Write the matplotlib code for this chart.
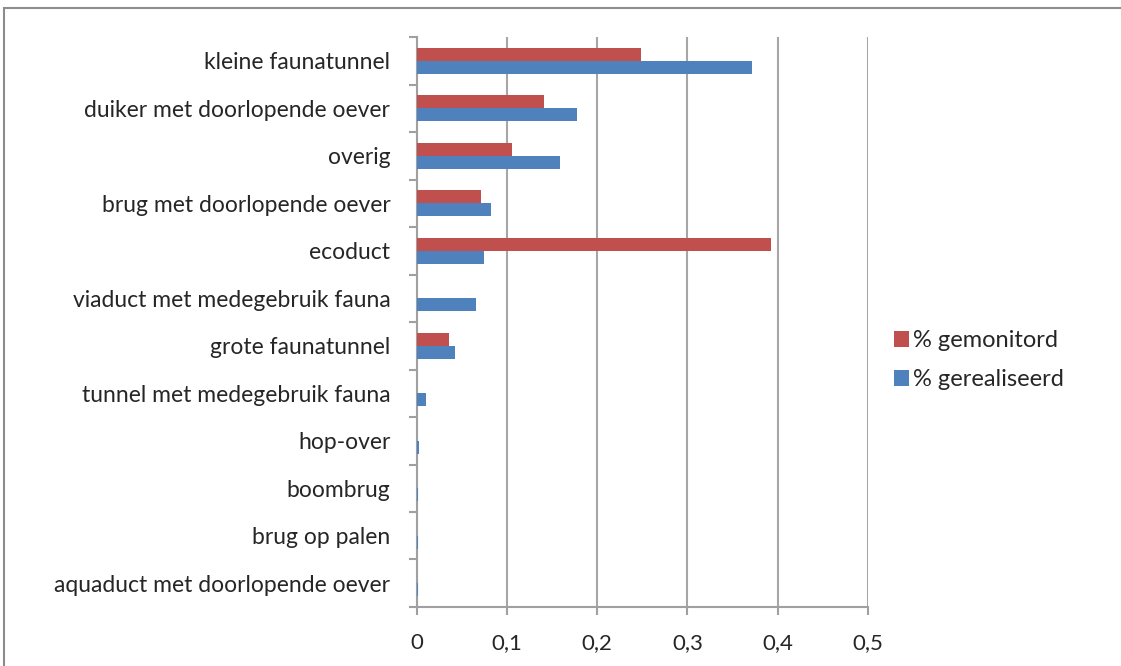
import matplotlib.pyplot as plt
from matplotlib.patches import Rectangle
from matplotlib.ticker import FuncFormatter
import numpy as np

categories = ["kleine faunatunnel", "duiker met doorlopende oever", "overig",
              "brug met doorlopende oever", "ecoduct", "viaduct met medegebruik fauna",
              "grote faunatunnel", "tunnel met medegebruik fauna", "hop-over",
              "boombrug", "brug op palen", "aquaduct met doorlopende oever"]
gemonitord = [0.249, 0.141, 0.106, 0.071, 0.392, 0.0, 0.036, 0.0, 0.0, 0.0, 0.0, 0.0]
gerealiseerd = [0.371, 0.178, 0.159, 0.082, 0.075, 0.066, 0.043, 0.010, 0.003, 0.0015, 0.0015, 0.0015]

plt.rcParams['font.family'] = ['Lato', 'DejaVu Sans']

fig = plt.figure(figsize=(11.21, 6.66), dpi=100)
ax = fig.add_axes([0.3717, 0.0886, 0.4026, 0.8558])

# outer chart border
fig.patches.append(Rectangle((0.004, -0.05), 1.1, 1.038, transform=fig.transFigure,
                             fill=False, edgecolor="#8c8c8c", linewidth=1.5))

y = np.arange(len(categories))
h = 0.275
ax.barh(y - h / 2, gemonitord, height=h, color="#C0504D", label="% gemonitord", zorder=3)
ax.barh(y + h / 2, gerealiseerd, height=h, color="#4F81BD", label="% gerealiseerd", zorder=3)

ax.set_ylim(len(categories) - 0.5, -0.5)
ax.set_xlim(0, 0.5)
ax.set_xticks(np.arange(0, 0.51, 0.1))
ax.xaxis.set_major_formatter(FuncFormatter(lambda v, p: "0" if v == 0 else f"{v:.1f}".replace(".", ",")))
ax.set_yticks(y)
ax.set_yticklabels(categories)
ax.set_yticks(np.arange(-0.5, len(categories), 1), minor=True)
ax.tick_params(axis="y", which="major", length=0, pad=19, labelsize=16.5, labelcolor="#262626")
ax.tick_params(axis="y", which="minor", length=6, width=1.5, color="#a0a0a0")
ax.tick_params(axis="x", length=6, width=1.5, color="#a0a0a0", pad=13, labelsize=16, labelcolor="#262626")

ax.grid(axis="x", color="#a6a6a6", linewidth=1.5, zorder=0)
for s in ["top", "right"]:
    ax.spines[s].set_visible(False)
for s in ["left", "bottom"]:
    ax.spines[s].set_color("#a0a0a0")
    ax.spines[s].set_linewidth(1.5)

leg = ax.legend(loc="center left", bbox_to_anchor=(1.01, 0.433), frameon=False,
                fontsize=17, handlelength=0.65, handleheight=0.65, handletextpad=0.15,
                labelspacing=0.75, labelcolor="#262626")

fig.savefig("out.png", dpi=100)
